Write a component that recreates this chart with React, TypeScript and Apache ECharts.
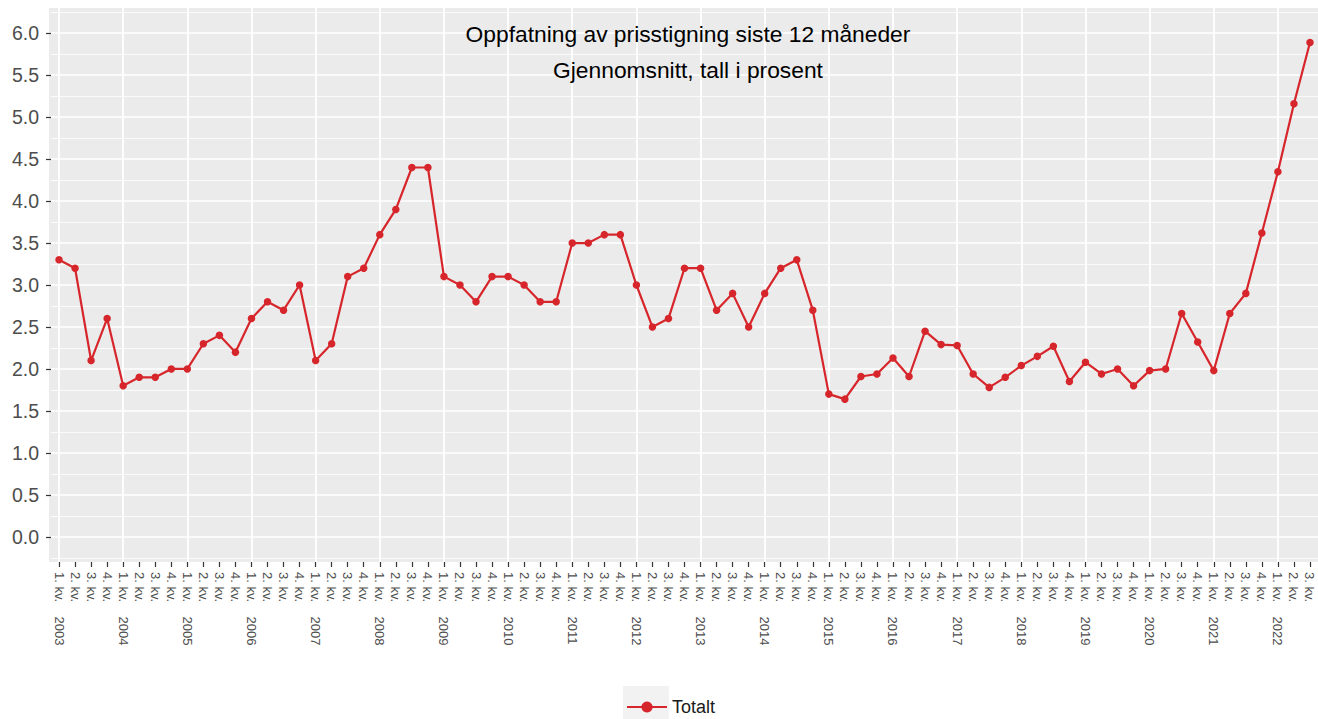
import React, { useEffect, useRef } from "react";
import * as echarts from "echarts";

const years = [2003,2004,2005,2006,2007,2008,2009,2010,2011,2012,2013,2014,2015,2016,2017,2018,2019,2020,2021,2022];
const quarters = ["1. kv.", "2. kv.", "3. kv.", "4. kv."];
const categories: string[] = [];
years.forEach((y) => {
  quarters.forEach((q, i) => {
    if (y === 2022 && i > 2) return;
    categories.push(i === 0 ? `${q} ${y}` : q);
  });
});

const totalt = [
  3.3, 3.2, 2.1, 2.6,
  1.8, 1.9, 1.9, 2.0,
  2.0, 2.3, 2.4, 2.2,
  2.6, 2.8, 2.7, 3.0,
  2.1, 2.3, 3.1, 3.2,
  3.6, 3.9, 4.4, 4.4,
  3.1, 3.0, 2.8, 3.1,
  3.1, 3.0, 2.8, 2.8,
  3.5, 3.5, 3.6, 3.6,
  3.0, 2.5, 2.6, 3.2,
  3.2, 2.7, 2.9, 2.5,
  2.9, 3.2, 3.3, 2.7,
  1.7, 1.64, 1.91, 1.94,
  2.13, 1.91, 2.45, 2.29,
  2.28, 1.94, 1.78, 1.9,
  2.04, 2.15, 2.27, 1.85,
  2.08, 1.94, 2.0, 1.8,
  1.98, 2.0, 2.66, 2.32,
  1.98, 2.66, 2.9, 3.62,
  4.35, 5.16, 5.89,
];

const yTicks = [0, 0.5, 1, 1.5, 2, 2.5, 3, 3.5, 4, 4.5, 5, 5.5, 6];
const yMinor = [-0.25, 0.25, 0.75, 1.25, 1.75, 2.25, 2.75, 3.25, 3.75, 4.25, 4.75, 5.25, 5.75, 6.25];

const titleLines = ["Oppfatning av prisstigning siste 12 måneder", "Gjennomsnitt, tall i prosent"];

const FONT = "'Liberation Sans', Arial, sans-serif";

export default function App() {
  const ref = useRef<HTMLDivElement>(null);
  useEffect(() => {
    if (!ref.current) return;
    const chart = echarts.init(ref.current, undefined, { renderer: "svg" });
    const yearStarts = categories.filter((_, i) => i % 4 === 0);
    const gridLines: any[] = [
      ...yMinor.map((v) => ({ yAxis: v, lineStyle: { width: 0.8, color: "#ffffff", type: "solid" } })),
      ...yTicks.map((v) => ({ yAxis: v, lineStyle: { width: 1.6, color: "#ffffff", type: "solid" } })),
      ...yearStarts.map((c) => ({ xAxis: c, lineStyle: { width: 1.8, color: "#ffffff", type: "solid" } })),
    ];
    chart.setOption({
      animation: false,
      textStyle: { fontFamily: FONT },
      grid: { left: 51, right: -6, top: 8, bottom: 157, containLabel: false },
      graphic: [
        {
          type: "rect",
          z: -10,
          silent: true,
          shape: { x: 49, y: 8, width: 1290, height: 554 },
          style: { fill: "#ebebeb" },
        },
        {
          type: "rect",
          z: -10,
          silent: true,
          shape: { x: 623, y: 686, width: 46, height: 33 },
          style: { fill: "#f2f2f2" },
        },
        ...titleLines.map((t, i) => ({
          type: "text",
          z: 10,
          silent: true,
          style: {
            x: 688,
            y: 34 + i * 36,
            text: t,
            fill: "#000000",
            font: `22.8px ${FONT}`,
            textAlign: "center",
            textVerticalAlign: "middle",
          },
        })),
      ],
      legend: {
        data: ["Totalt"],
        left: 626,
        top: 698,
        itemWidth: 40,
        itemHeight: 14,
        itemGap: 5,
        padding: 0,
        textStyle: { fontSize: 18, lineHeight: 18, color: "#1a1a1a", fontFamily: FONT },
        selectedMode: false,
      },
      xAxis: {
        type: "category",
        data: categories,
        boundaryGap: true,
        axisLine: { show: false, onZero: false },
        axisTick: { show: true, alignWithLabel: true, interval: 0, length: 5, lineStyle: { color: "#333333", width: 1.2 } },
        splitLine: { show: false },
        axisLabel: {
          interval: 0,
          rotate: -90,
          margin: 10,
          fontSize: 13,
          color: "#4d4d4d",
          fontFamily: FONT,
          formatter: (v: string) => v.replace(/ (\d{4})$/, "\u00a0\u00a0\u00a0 $1"),
        },
      },
      yAxis: {
        type: "value",
        min: -0.3,
        max: 6.3,
        axisLine: { show: false },
        splitLine: { show: false },
        axisTick: { show: true, length: 5, customValues: yTicks, lineStyle: { color: "#333333", width: 1.2 } },
        axisLabel: {
          customValues: yTicks,
          margin: 12,
          fontSize: 19.5,
          color: "#4d4d4d",
          fontFamily: FONT,
          formatter: (v: number) => v.toFixed(1),
        },
      },
      series: [
        {
          name: "grid",
          type: "line",
          z: 1,
          silent: true,
          data: totalt,
          showSymbol: false,
          symbol: "none",
          lineStyle: { opacity: 0 },
          markLine: {
            z: 1,
            silent: true,
            symbol: ["none", "none"],
            label: { show: false },
            emphasis: { disabled: true },
            data: gridLines,
          },
        },
        {
          name: "Totalt",
          type: "line",
          z: 3,
          data: totalt,
          symbol: "circle",
          symbolSize: 7.5,
          showSymbol: true,
          itemStyle: { color: "#d7262b" },
          lineStyle: { color: "#d7262b", width: 2.2 },
        },
      ],
    });
    return () => chart.dispose();
  }, []);
  return (
    <div style={{ position: "fixed", left: 0, top: 0, width: 1318, height: 719, overflow: "hidden", background: "#ffffff" }}>
      <div ref={ref} style={{ width: 1318, height: 719 }} />
    </div>
  );
}
